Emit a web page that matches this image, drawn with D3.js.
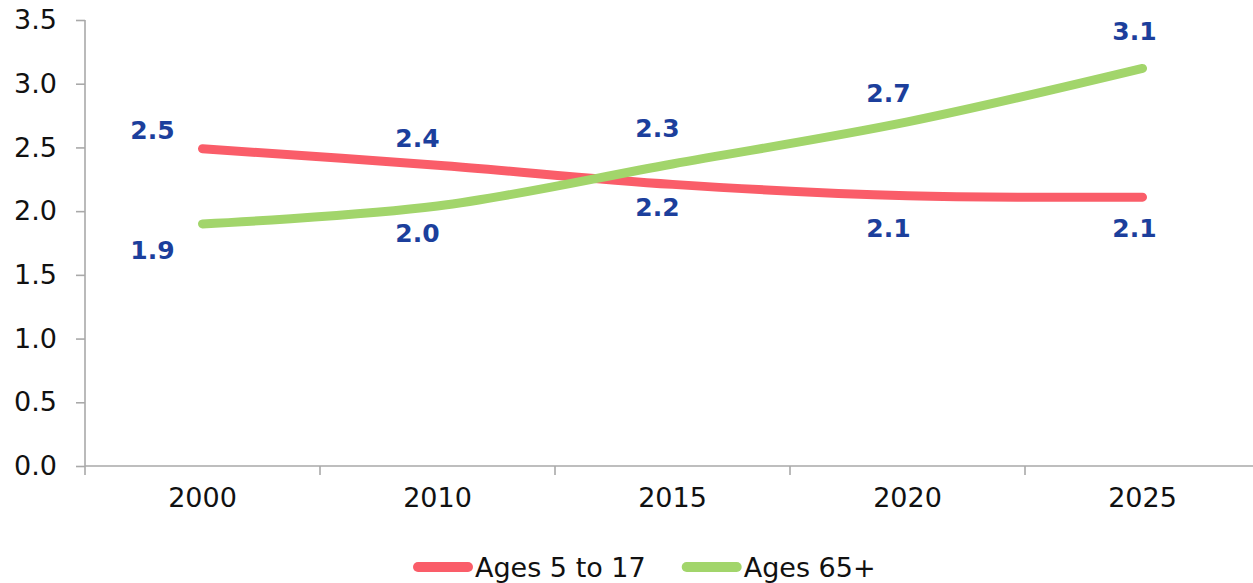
<!DOCTYPE html>
<html>
<head>
<meta charset="utf-8">
<script src="https://cdn.jsdelivr.net/npm/d3@7"></script>
<style>
  body { margin: 0; background: #fff; }
  svg text { font-family: "DejaVu Sans", Verdana, sans-serif; }
</style>
</head>
<body>
<div id="chart"></div>
<script>
// data
const years = ["2000", "2010", "2015", "2020", "2025"];
const youth = [2.49, 2.36, 2.21, 2.12, 2.11];   // Ages 5 to 17
const seniors = [1.9, 2.04, 2.37, 2.7, 3.12];  // Ages 65+
const youthLabels = ["2.5", "2.4", "2.2", "2.1", "2.1"];
const seniorLabels = ["1.9", "2.0", "2.3", "2.7", "3.1"];
const yTicks = [0, 0.5, 1, 1.5, 2, 2.5, 3, 3.5];

// layout
const W = 1253, H = 583;
const plot = {left: 85, right: 1260, top: 20, bottom: 466};
const labelDx = [-50, -20, -15, -19, -8];
const labelDyAbove = [-19, -27, -36, -29, -37];
const labelDyBelow = [26, 27, 23, 32, 31];

const series = [
  {name: "Ages 5 to 17", values: youth, labels: youthLabels, color: "#fa5d69"},
  {name: "Ages 65+", values: seniors, labels: seniorLabels, color: "#a2d56b"}
];

const svg = d3.select("#chart").append("svg")
    .attr("width", W)
    .attr("height", H);

const x = d3.scaleBand().domain(years).range([plot.left, plot.right]).padding(0);
const y = d3.scaleLinear().domain([0, 3.5]).range([plot.bottom, plot.top]);

// y axis
const yAxis = svg.append("g")
    .attr("transform", "translate(" + plot.left + ",0)")
    .call(d3.axisLeft(y).tickValues(yTicks).tickFormat(d3.format(".1f")).tickSize(9).tickPadding(19));
yAxis.select(".domain").attr("d", "M0," + plot.top + "V" + plot.bottom);

// x axis: labels at band centres, ticks at band edges
const xAxis = svg.append("g")
    .attr("transform", "translate(0," + plot.bottom + ")")
    .call(d3.axisBottom(x).tickSize(0).tickPadding(22));
xAxis.select(".domain").attr("d", "M" + plot.left + ",0H" + plot.right);
xAxis.selectAll(".edge")
    .data(years)
  .enter().append("line")
    .attr("class", "edge")
    .attr("x1", d => x(d))
    .attr("x2", d => x(d))
    .attr("y1", 0)
    .attr("y2", 9);

svg.selectAll(".domain, .tick line, .edge")
    .attr("stroke", "#a9a9a9")
    .attr("stroke-width", 1.6);
svg.selectAll(".tick text")
    .attr("fill", "#111")
    .style("font-size", "27px");

// lines
const line = d3.line()
    .x((d, i) => x(years[i]) + x.bandwidth() / 2)
    .y(d => y(d))
    .curve(d3.curveCatmullRom.alpha(0.5));

svg.selectAll(".series")
    .data(series)
  .enter().append("path")
    .attr("class", "series")
    .attr("d", d => line(d.values))
    .attr("fill", "none")
    .attr("stroke", d => d.color)
    .attr("stroke-width", 9)
    .attr("stroke-linecap", "round")
    .attr("stroke-linejoin", "round");

// value labels: higher series above, lower below
series.forEach((s, k) => {
  const other = series[1 - k];
  svg.selectAll(".lab" + k)
      .data(s.values)
    .enter().append("text")
      .attr("class", "lab" + k)
      .attr("x", (d, i) => x(years[i]) + x.bandwidth() / 2 + labelDx[i])
      .attr("y", (d, i) => y(d) + (d >= other.values[i] ? labelDyAbove[i] : labelDyBelow[i]))
      .attr("dy", "0.36em")
      .attr("text-anchor", "middle")
      .attr("fill", "#1c3f9c")
      .style("font-size", "25px")
      .style("font-weight", "bold")
      .text((d, i) => s.labels[i]);
});

// legend
const legend = svg.append("g").attr("transform", "translate(413,567)");
let lx = 0;
series.forEach(s => {
  legend.append("line")
      .attr("x1", lx + 5).attr("x2", lx + 55)
      .attr("y1", 0).attr("y2", 0)
      .attr("stroke", s.color)
      .attr("stroke-width", 10)
      .attr("stroke-linecap", "round");
  const t = legend.append("text")
      .attr("x", lx + 62)
      .attr("y", 0)
      .attr("dy", "0.36em")
      .attr("fill", "#111")
      .style("font-size", "27px")
      .text(s.name);
  lx += 62 + t.node().getComputedTextLength() + 36;
});
</script>
</body>
</html>
